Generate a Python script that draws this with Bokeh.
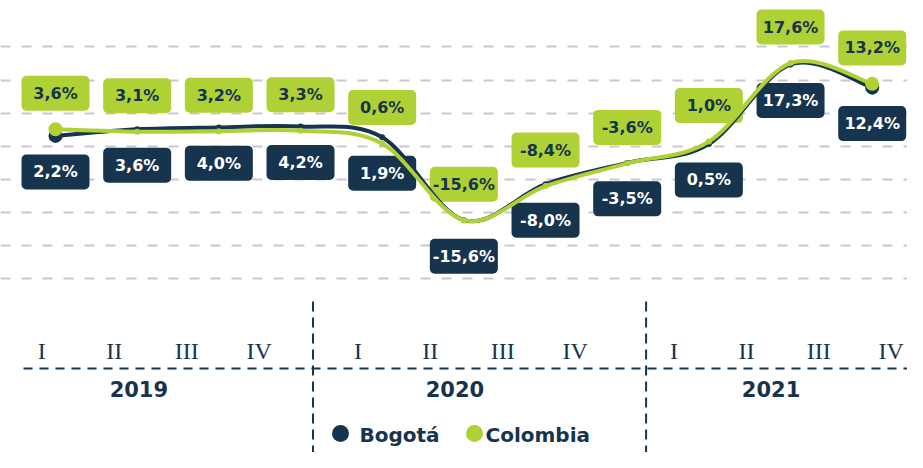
from bokeh.plotting import figure
from bokeh.models import Range1d, FixedTicker, ColumnDataSource
from bokeh.embed import file_html
from bokeh.resources import INLINE
from bokeh.core.properties import value

# ---------------- data ----------------
years = ["2019", "2020", "2021"]
quarters = ["I", "II", "III", "IV"]
series_names = ["Bogotá", "Colombia"]
bogota = [2.2, 3.6, 4.0, 4.2, 1.9, -15.6, -8.0, -3.5, 0.5, 17.3, 12.4]
colombia = [3.6, 3.1, 3.2, 3.3, 0.6, -15.6, -8.4, -3.6, 1.0, 17.6, 13.2]
grid_ticks = [-28, -21, -14, -7, 0, 7, 14, 21]

NAVY = "#17344f"
GREEN = "#afd135"
GRID = "#c9c7d0"
FONT = "DejaVu Sans"

W, H = 907, 452
LABEL_OFF = 7.6      # data units between a point and its label box
GROUP_PAD = 0.364    # gap between year groups on the quarter axis


def fmt(v):
    return ("%.1f" % v).replace(".", ",") + "%"


def bezier_parts(xs, ys):
    n = len(xs)
    out = dict(x0=[], y0=[], x1=[], y1=[], cx0=[], cy0=[], cx1=[], cy1=[])
    for i in range(n - 1):
        im, ip2 = max(i - 1, 0), min(i + 2, n - 1)
        out["x0"].append(xs[i]); out["y0"].append(ys[i])
        out["x1"].append(xs[i + 1]); out["y1"].append(ys[i + 1])
        out["cx0"].append(xs[i] + (xs[i + 1] - xs[im]) / 6)
        out["cy0"].append(ys[i] + (ys[i + 1] - ys[im]) / 6)
        out["cx1"].append(xs[i + 1] - (xs[ip2] - xs[i]) / 6)
        out["cy1"].append(ys[i + 1] - (ys[ip2] - ys[i]) / 6)
    return out


xs = list(range(len(bogota)))

p = figure(width=W, height=H, output_backend="svg", toolbar_location=None,
           x_range=Range1d(-0.6734, 10.432), y_range=Range1d(-64.69, 30.81),
           min_border=0, min_border_left=0, min_border_right=0,
           min_border_top=0, min_border_bottom=0)
p.xaxis.visible = False
p.yaxis.visible = False
p.xgrid.visible = False
p.outline_line_color = None
p.background_fill_color = "white"
p.border_fill_color = "white"
p.ygrid.ticker = FixedTicker(ticks=grid_ticks)
p.ygrid.grid_line_color = GRID
p.ygrid.grid_line_width = 2
p.ygrid.grid_line_dash = "10 11"

p.extra_x_ranges = {"q": Range1d(-0.5702, 11.952), "lay": Range1d(0, W)}
p.extra_y_ranges = {"lay": Range1d(H, 0)}

# ---------------- label boxes ----------------
col_src = ColumnDataSource(dict(x=xs, y=[v + LABEL_OFF for v in colombia],
                                t=[fmt(v) for v in colombia]))
bog_src = ColumnDataSource(dict(x=xs, y=[v - LABEL_OFF for v in bogota],
                                t=[fmt(v) for v in bogota]))
for src, fill, tcol in ((col_src, GREEN, NAVY), (bog_src, NAVY, "white")):
    p.rect("x", "y", width=68, height=35, width_units="screen", height_units="screen",
           source=src, fill_color=fill, line_color=None, border_radius=5)
    p.text("x", "y", text="t", source=src, text_color=tcol, text_font=value(FONT),
           text_font_style="bold", text_font_size="16px", text_align="center",
           text_baseline="middle")

# ---------------- smooth lines ----------------
for vals, col in ((bogota, NAVY), (colombia, GREEN)):
    b = bezier_parts(xs, vals)
    p.bezier(source=ColumnDataSource(b), x0="x0", y0="y0", x1="x1", y1="y1",
             cx0="cx0", cy0="cy0", cx1="cx1", cy1="cy1",
             line_color=col, line_width=4, line_cap="round")
    p.scatter(xs, vals, size=6, fill_color=col, line_color=None)
    ends = [0, len(vals) - 1]
    p.scatter([xs[i] for i in ends], [vals[i] for i in ends], size=14,
              fill_color=col, line_color=None)

# ---------------- category axis (quarters / years) ----------------
qx, qt = [], []
for yi, yr in enumerate(years):
    for qi, q in enumerate(quarters):
        qx.append(4 * yi + qi + GROUP_PAD * yi)
        qt.append(q)
p.text(qx, [350] * len(qx), text=qt, x_range_name="q", y_range_name="lay",
       text_color=NAVY, text_font=value("Liberation Serif"), text_font_size="24px",
       text_align="center", text_baseline="middle")

yx = [4 * yi + 1.5 + GROUP_PAD * yi - 0.16 for yi in range(len(years))]
p.text(yx, [388] * len(years), text=years, x_range_name="q", y_range_name="lay",
       text_color=NAVY, text_font=value(FONT), text_font_style="bold",
       text_font_size="21px", text_align="center", text_baseline="middle")

# dashed axis line
p.segment(x0=[23], y0=[368], x1=[W], y1=[368], x_range_name="lay", y_range_name="lay",
          line_color=NAVY, line_width=2, line_dash="9 7")
# year separators
sep_q = [3.744, 8.343]
p.segment(x0=sep_q, y0=[301] * 2, x1=sep_q, y1=[H] * 2, x_range_name="q",
          y_range_name="lay", line_color=NAVY, line_width=2, line_dash="10 6")

# ---------------- legend ----------------
leg_x = [340, 474]
leg_tx = [359, 485]
p.scatter(leg_x, [433, 433], size=17, fill_color=[NAVY, GREEN], line_color=None,
          x_range_name="lay", y_range_name="lay")
p.text(leg_tx, [434, 434], text=series_names,
       x_range_name="lay", y_range_name="lay", text_color=NAVY,
       text_font=value(FONT), text_font_style="bold", text_font_size="20px",
       text_align="left", text_baseline="middle")

open("out.html", "w").write(file_html(p, INLINE))
